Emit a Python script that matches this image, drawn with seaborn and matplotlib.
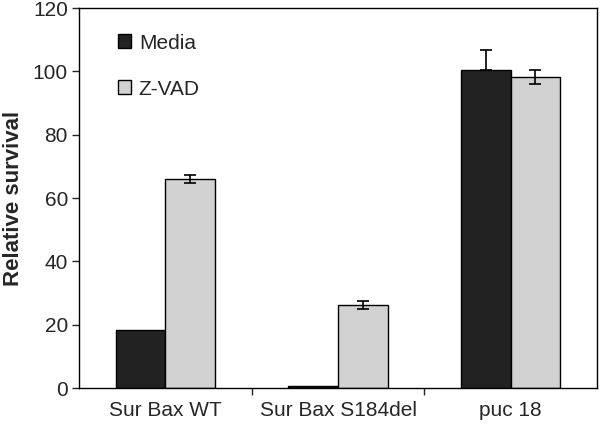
import pandas as pd
import matplotlib
matplotlib.use("Agg")
import matplotlib.pyplot as plt
import seaborn as sns

# valores
grupos = ["Sur Bax WT", "Sur Bax S184del", "puc 18"]
tratamentos = ["Media", "Z-VAD"]
media_vals = [18.3, 0.5, 100.4]
media_err = [0, 0, 6.3]
zvad_vals = [66.0, 26.3, 98.2]
zvad_err = [1.2, 1.2, 2.3]
cores = ["#222222", "#d2d2d2"]

df = pd.DataFrame({
    "grupo": grupos * 2,
    "tratamento": [tratamentos[0]] * 3 + [tratamentos[1]] * 3,
    "sobrevida": media_vals + zvad_vals,
    "erro": media_err + zvad_err,
})

sns.set_style("ticks")
plt.rcParams["font.family"] = ["Liberation Sans", "DejaVu Sans"]

fig = plt.figure(figsize=(6, 4.24), dpi=100)
ax = fig.add_axes([0.1317, 0.0849, 0.8633, 0.8962])

sns.barplot(data=df, x="grupo", y="sobrevida", hue="tratamento",
            order=grupos, hue_order=tratamentos, palette=cores,
            width=0.575, edgecolor="black", linewidth=1, errorbar=None,
            saturation=1, ax=ax)

# barras de erro a partir das posicoes das barras desenhadas
# (na barra preta so aparece a metade de cima)
for cont, trat in zip(ax.containers, tratamentos):
    sub = df[df["tratamento"] == trat].set_index("grupo").loc[grupos]
    xs = [p.get_x() + p.get_width() / 2 for p in cont.patches]
    for x, y, e in zip(xs, sub["sobrevida"], sub["erro"]):
        if e > 0:
            yerr = [[0], [e]] if trat == "Media" else e
            ax.errorbar(x, y, yerr=yerr, fmt="none", ecolor="black",
                        elinewidth=1.2, capsize=4, capthick=1.2, zorder=5)

ax.set_xlim(-0.5, 2.5)
ax.set_ylim(0, 120)
ax.set_yticks(range(0, 121, 20))
ax.set_xticks([0, 1, 2])
ax.set_xticklabels(grupos, fontsize=15)
ax.set_xticks([0.5, 1.5], minor=True)
ax.tick_params(axis="x", which="major", length=0, pad=9)
ax.tick_params(axis="x", which="minor", length=5, width=1, direction="out")
ax.tick_params(axis="y", labelsize=15, length=5, width=1, direction="out", pad=3)
for s in ax.spines.values():
    s.set_visible(True)
    s.set_linewidth(1)
    s.set_color("black")

ax.set_xlabel("")
ax.set_ylabel("Relative survival", fontsize=16, fontweight="bold", labelpad=6)

leg = ax.legend(loc="upper left", bbox_to_anchor=(0.055, 0.96), frameon=False,
                fontsize=15, handlelength=0.65, handleheight=0.65,
                handletextpad=0.35, labelspacing=1.3, borderpad=0)
for h in leg.legend_handles:
    h.set_edgecolor("black")
    h.set_linewidth(1)

fig.savefig("out.png", dpi=100)
